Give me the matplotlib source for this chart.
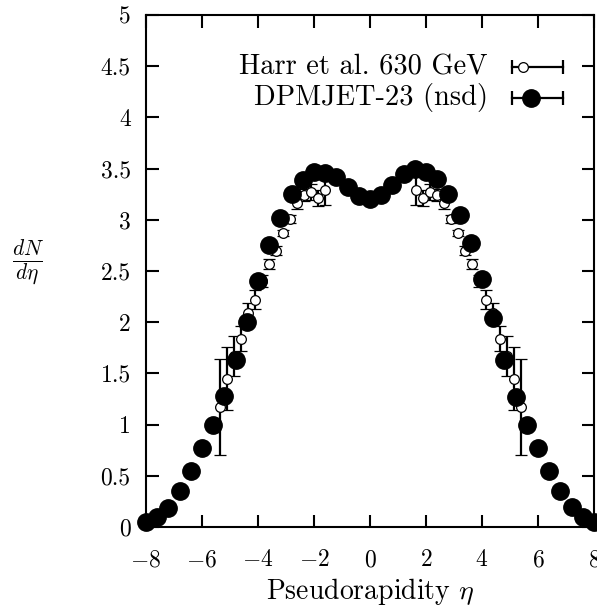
import numpy as np
import matplotlib
matplotlib.use("Agg")
import matplotlib.pyplot as plt

plt.rcParams['font.family'] = 'serif'
plt.rcParams['font.serif'] = ['cmr10']
plt.rcParams['mathtext.fontset'] = 'cm'
plt.rcParams['axes.formatter.use_mathtext'] = True

##############################################################################
# data
##############################################################################

# DPMJET-23 (nsd), bins of 0.4 in eta
dpm_eta = [-8.0, -7.6, -7.2, -6.8, -6.4, -6.0, -5.6, -5.2, -4.8, -4.4, -4.0,
           -3.6, -3.2, -2.8, -2.4, -2.0, -1.6, -1.2, -0.8, -0.4, 0.0,
           0.4, 0.8, 1.2, 1.6, 2.0, 2.4, 2.8, 3.2, 3.6, 4.0,
           4.4, 4.8, 5.2, 5.6, 6.0, 6.4, 6.8, 7.2, 7.6, 8.0]
dpm_dndeta = [0.05, 0.10, 0.19, 0.35, 0.55, 0.77, 1.00, 1.28, 1.63, 2.00, 2.40,
              2.75, 3.02, 3.25, 3.39, 3.47, 3.46, 3.42, 3.32, 3.23, 3.20,
              3.24, 3.34, 3.45, 3.50, 3.47, 3.40, 3.25, 3.05, 2.77, 2.42,
              2.04, 1.63, 1.27, 1.00, 0.77, 0.55, 0.35, 0.20, 0.10, 0.05]

# Harr et al. 630 GeV
harr_eta = [-5.375, -5.125, -4.875, -4.625, -4.375, -4.125, -3.875, -3.625,
            -3.375, -3.125, -2.875, -2.625, -2.375, -2.125, -1.875, -1.625,
            1.625, 1.875, 2.125, 2.375, 2.625, 2.875, 3.125, 3.375,
            3.625, 3.875, 4.125, 4.375, 4.625, 4.875, 5.125, 5.375]
harr_dndeta = [1.17, 1.45, 1.67, 1.84, 2.09, 2.22, 2.40, 2.57,
               2.70, 2.87, 3.01, 3.16, 3.24, 3.27, 3.21, 3.29,
               3.29, 3.21, 3.27, 3.24, 3.16, 3.01, 2.87, 2.70,
               2.57, 2.40, 2.22, 2.09, 1.84, 1.67, 1.45, 1.17]
harr_err = [0.47, 0.31, 0.20, 0.12, 0.10, 0.09, 0.06, 0.05,
            0.04, 0.03, 0.04, 0.05, 0.06, 0.08, 0.08, 0.15,
            0.15, 0.08, 0.08, 0.06, 0.05, 0.04, 0.03, 0.04,
            0.05, 0.06, 0.09, 0.10, 0.12, 0.20, 0.31, 0.47]

xticks = [-8, -6, -4, -2, 0, 2, 4, 6, 8]
yticks = [0, 0.5, 1, 1.5, 2, 2.5, 3, 3.5, 4, 4.5, 5]
yticklabels = ['0', '0.5', '1', '1.5', '2', '2.5', '3', '3.5', '4', '4.5', '5']

##############################################################################
# plot
##############################################################################

fig = plt.figure(figsize=(5.97, 6.07), dpi=100)
ax = fig.add_axes([146 / 597, 1 - 527 / 607, 448 / 597, 512 / 607])

ax.errorbar(harr_eta, harr_dndeta, yerr=harr_err, fmt='o', ms=7,
            mfc='white', mec='black', mew=0.9, ecolor='black',
            elinewidth=1.6, capsize=4.5, capthick=1.6, zorder=2,
            clip_on=False)
ax.plot(dpm_eta, dpm_dndeta, 'o', color='black', ms=12.5, zorder=3,
        clip_on=False)

ax.set_xlim(-8, 8)
ax.set_ylim(0, 5)
ax.set_xticks(xticks)
ax.set_yticks(yticks)
ax.set_yticklabels(yticklabels)
ax.tick_params(direction='in', length=9, width=1.5, labelsize=17,
               top=True, right=True)
ax.tick_params(axis='x', pad=16)
ax.tick_params(axis='y', pad=11)
for s in ax.spines.values():
    s.set_linewidth(1.5)

ax.set_xlabel(r'Pseudorapidity $\eta$', fontsize=20, labelpad=3)
fig.text(28 / 597, 1 - 263 / 607, r'$\frac{dN}{d\eta}$', fontsize=22,
         ha='center', va='center')

# gnuplot-like key, drawn by hand
rows = [(0.898, 'Harr et al. 630 GeV'), (0.838, 'DPMJET-23 (nsd)')]
x0, x1 = (512 - 146) / 448, (563 - 146) / 448
for i, (yy, label) in enumerate(rows):
    ax.text(0.763, yy, label, transform=ax.transAxes, ha='right',
            va='center', fontsize=20.5)
    ax.plot([x0, x1], [yy, yy], color='black', lw=1.6,
            transform=ax.transAxes, clip_on=False)
    ax.plot([x0, x1], [yy, yy], '|', color='black', ms=10, mew=1.6,
            transform=ax.transAxes, clip_on=False)
    if i == 0:
        ax.plot([(523 - 146) / 448], [yy], 'o', ms=7, mfc='white',
                mec='black', mew=0.9, transform=ax.transAxes, clip_on=False)
    else:
        ax.plot([(531 - 146) / 448], [yy], 'o', color='black', ms=12.5,
                transform=ax.transAxes, clip_on=False)

fig.savefig('out.png', dpi=100)
